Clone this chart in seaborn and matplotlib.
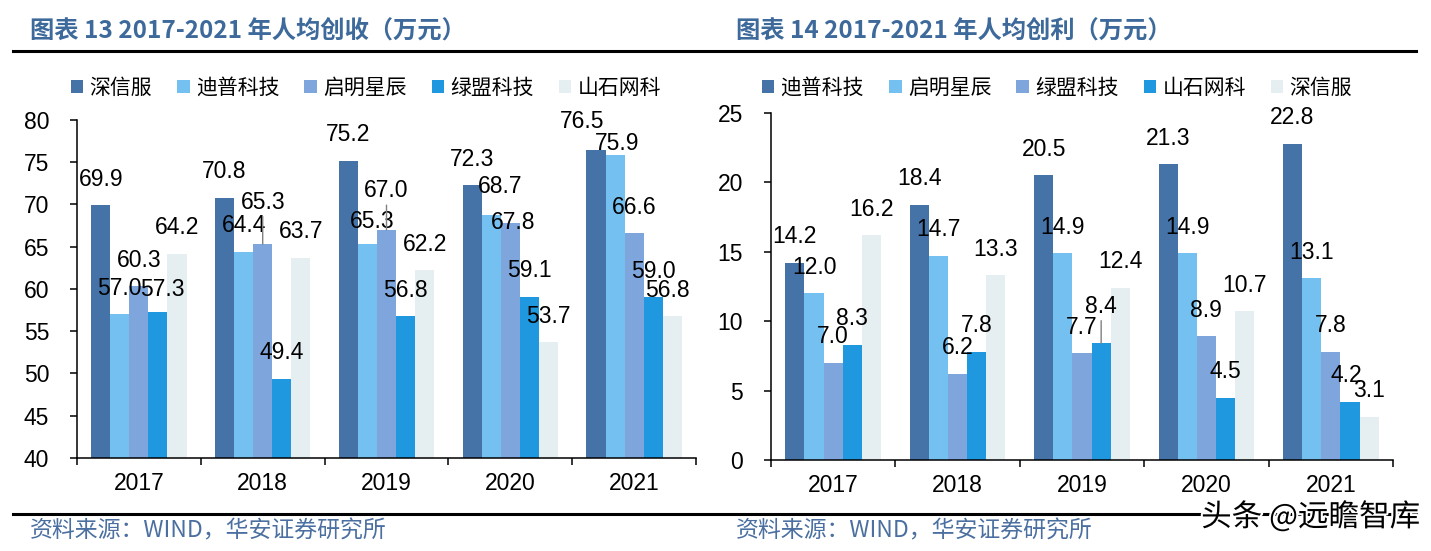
import numpy as np
import pandas as pd
import matplotlib
matplotlib.use("Agg")
import matplotlib.pyplot as plt
import seaborn as sns
from matplotlib.lines import Line2D
from matplotlib.ticker import FixedLocator
import matplotlib.patheffects as pe

# ---------------- data ----------------
years = ["2017", "2018", "2019", "2020", "2021"]

# 图表13 人均创收（万元）
rev_companies = ["深信服", "迪普科技", "启明星辰", "绿盟科技", "山石网科"]
rev_sangfor = [69.9, 70.8, 75.2, 72.3, 76.5]
rev_dptech = [57.0, 64.4, 65.3, 68.7, 75.9]
rev_venus = [60.3, 65.3, 67.0, 67.8, 66.6]
rev_nsfocus = [57.3, 49.4, 56.8, 59.1, 59.0]
rev_hillstone = [64.2, 63.7, 62.2, 53.7, 56.8]

# 图表14 人均创利（万元）
prof_companies = ["迪普科技", "启明星辰", "绿盟科技", "山石网科", "深信服"]
prof_dptech = [14.2, 18.4, 20.5, 21.3, 22.8]
prof_venus = [12.0, 14.7, 14.9, 14.9, 13.1]
prof_nsfocus = [7.0, 6.2, 7.7, 8.9, 7.8]
prof_hillstone = [8.3, 7.8, 8.4, 4.5, 4.2]
prof_sangfor = [16.2, 13.3, 12.4, 10.7, 3.1]

titles = ["图表 13 2017-2021 年人均创收（万元）", "图表 14 2017-2021 年人均创利（万元）"]
source_text = "资料来源：WIND，华安证券研究所"
watermark = "头条 @远瞻智库"

palette = ["#4673A7", "#74C1F1", "#7EA6DC", "#1F98DF", "#E5EEF0"]

# label nudges (pixels: dx, dy up) for a few crowded labels, keyed by (chart, hue index, year index)
label_nudge = {
    (0, 2, 1): (0, 16, True),
    (0, 2, 2): (0, 13, True),
    (0, 1, 2): (5, -3, False),
    (0, 1, 3): (9, 3, False),
    (0, 2, 3): (3, -25, False),
    (0, 0, 4): (-14, 2, False),
    (0, 1, 4): (2, -15, False),
    (0, 4, 4): (-5, 0, False),
    (0, 3, 0): (4, -4, False),
    (1, 3, 2): (0, 11, True),
    (1, 3, 4): (-4, 0, False),
}


def long_df(companies, series):
    rows = []
    for c, vals in zip(companies, series):
        for y, v in zip(years, vals):
            rows.append({"year": y, "company": c, "value": v})
    return pd.DataFrame(rows)


df_rev = long_df(rev_companies, [rev_sangfor, rev_dptech, rev_venus, rev_nsfocus, rev_hillstone])
df_prof = long_df(prof_companies, [prof_dptech, prof_venus, prof_nsfocus, prof_hillstone, prof_sangfor])

# ---------------- figure ----------------
W, H = 1431, 551
fig = plt.figure(figsize=(W / 100, H / 100), dpi=100)
plt.rcParams["font.family"] = ["Liberation Sans", "Noto Sans CJK SC", "DejaVu Sans"]

cjk = ["Noto Sans CJK SC", "DejaVu Sans"]
PT = 0.72  # points per pixel at 100 dpi


def px(x0, y0, x1, y1):
    return [x0 / W, 1 - y1 / H, (x1 - x0) / W, (y1 - y0) / H]


ax1 = fig.add_axes(px(77, 120, 696, 458))
ax2 = fig.add_axes(px(771, 113, 1393, 460))

configs = [
    (ax1, df_rev, rev_companies, (40, 80), np.arange(40, 81, 5), 366),
    (ax2, df_prof, prof_companies, (0, 25), np.arange(0, 26, 5), 1057),
]

for ci, (ax, df, comps, ylim, yt, legx) in enumerate(configs):
    sns.barplot(data=df, x="year", y="value", hue="company", hue_order=comps,
                order=years, palette=palette, width=0.77, gap=0, saturation=1,
                linewidth=0, errorbar=None, ax=ax)
    ax.set_ylim(*ylim)
    ax.set_xlim(-0.5, 4.5)
    ax.set_yticks(yt)
    ax.set_xlabel("")
    ax.set_ylabel("")
    for s in ["top", "right"]:
        ax.spines[s].set_visible(False)
    for s in ["left", "bottom"]:
        ax.spines[s].set_color("black")
        ax.spines[s].set_linewidth(1.1)
    ax.tick_params(axis="y", direction="out", length=5, width=1.1, pad=15, labelsize=16.5, colors="black")
    ax.tick_params(axis="x", which="major", length=0, pad=10, labelsize=16.5, colors="black")
    ax.xaxis.set_minor_locator(FixedLocator(np.arange(-0.5, 5, 1.0)))
    ax.tick_params(axis="x", which="minor", direction="out", length=5, width=1.1, colors="black")

    for hi, cont in enumerate(ax.containers):
        for yi, patch in enumerate(cont.patches):
            xc = patch.get_x() + patch.get_width() / 2
            val = patch.get_height()
            dx, dy, lead = label_nudge.get((ci, hi, yi), (0, 0, False))
            kw = {}
            if lead:
                kw["arrowprops"] = dict(arrowstyle="-", color="#808080", lw=1.0,
                                        shrinkA=0, shrinkB=0)
            ax.annotate(f"{val:.1f}", xy=(xc, val), xytext=(dx * PT, (26 + dy) * PT),
                        textcoords="offset points", ha="center", va="center",
                        fontsize=16.5, color="black", annotation_clip=False, **kw)

    handles, labels = ax.get_legend_handles_labels()
    if ax.get_legend() is not None:
        ax.get_legend().remove()
    fig.legend(handles, labels, loc="center", bbox_to_anchor=(legx / W, 1 - 88 / H),
               ncol=5, frameon=False, handlelength=0.6, handleheight=0.6,
               handletextpad=0.3, columnspacing=1.2,
               prop={"family": cjk, "size": 15})

# titles
for tx, t in zip([30, 736], titles):
    fig.text(tx / W, 1 - 32 / H, t, ha="left", va="center", fontsize=17.5,
             fontweight="bold", color="#3D6A9B", family=cjk)

# separator lines
fig.add_artist(Line2D([13 / W, 1416 / W], [1 - 51 / H, 1 - 51 / H], color="black", lw=2.2))
fig.add_artist(Line2D([13 / W, 1416 / W], [1 - 514 / H, 1 - 514 / H], color="black", lw=2.2))

# source
for tx in [30, 736]:
    fig.text(tx / W, 1 - 531 / H, source_text, ha="left", va="center", fontsize=16.5,
             color="#4A6FA0", family=cjk)

# watermark
wm = fig.text(1420 / W, 1 - 517 / H, watermark, ha="right", va="center", fontsize=22,
              color="black", family=cjk)
wm.set_path_effects([pe.withStroke(linewidth=3, foreground="white")])

fig.savefig("out.png", dpi=100)
